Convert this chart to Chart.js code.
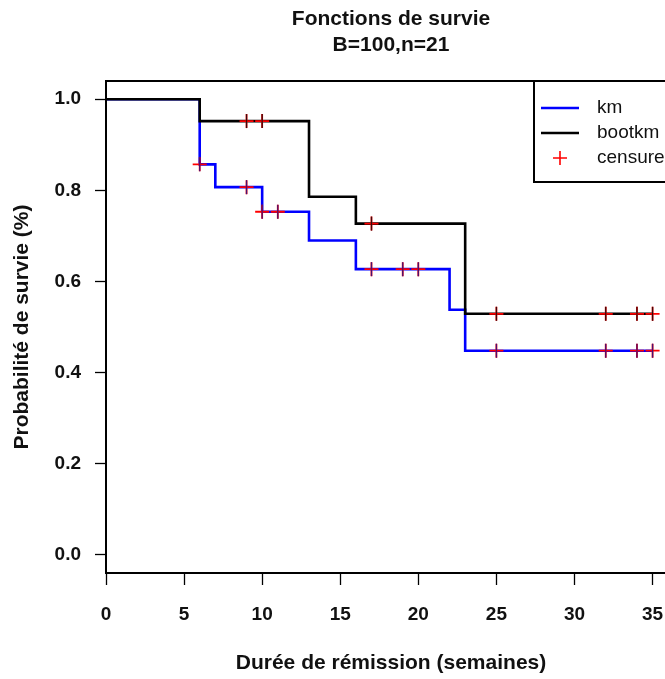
<!DOCTYPE html>
<html lang="fr">
<head>
<meta charset="utf-8">
<title>Fonctions de survie</title>
<script src="https://cdn.jsdelivr.net/npm/chart.js@4.4.1/dist/chart.umd.min.js"></script>
<style>
    html, body { margin: 0; padding: 0; background: #fff; overflow: hidden; }
    #wrap { width: 782px; height: 679px; }
</style>
</head>
<body>
<div id="wrap"><canvas id="survieChart" width="782" height="679"></canvas></div>
<script>
// --- Données : estimateur de Kaplan-Meier et moyenne bootstrap ---
const kmTemps = [0, 6, 7, 10, 13, 16, 22, 23, 35];
const kmSurvie = [1, 0.857, 0.807, 0.753, 0.690, 0.627, 0.538, 0.448, 0.448];

const bootTemps = [0, 6, 13, 16, 23, 35];
const bootSurvie = [1, 0.952, 0.786, 0.727, 0.529, 0.529];

// observations censurées, sur chaque courbe
const kmCensTemps = [6, 9, 10, 11, 17, 19, 20, 25, 32, 34, 35];
const kmCensSurvie = [0.857, 0.807, 0.753, 0.753, 0.627, 0.627, 0.627, 0.448, 0.448, 0.448, 0.448];
const bootCensTemps = [9, 10, 17, 25, 32, 34, 35];
const bootCensSurvie = [0.952, 0.952, 0.727, 0.529, 0.529, 0.529, 0.529];

const xTicks = [0, 5, 10, 15, 20, 25, 30, 35];
const yTicks = [0, 0.2, 0.4, 0.6, 0.8, 1.0];

const titre = ['Fonctions de survie', 'B=100,n=21'];
const legendeLabels = ['km', 'bootkm', 'censure'];

const FONT = '"Liberation Sans", Arial, sans-serif';
const BLEU = '#0000ff';
const NOIR = '#000000';
const ROUGE = '#ff0000';

const toPoints = (xs, ys) => xs.map((x, i) => ({ x: x, y: ys[i] }));

// titre centré sur la zone de tracé, cadre, légende en haut à droite
const cadrePlugin = {
    id: 'cadre',
    afterDraw(chart) {
        const { ctx, chartArea: a } = chart;
        ctx.save();

        ctx.fillStyle = '#111';
        ctx.font = 'bold 21px ' + FONT;
        ctx.textAlign = 'center';
        ctx.textBaseline = 'middle';
        const cx = (a.left + a.right) / 2;
        ctx.fillText(titre[0], cx, 19);
        ctx.fillText(titre[1], cx, 45);

        ctx.strokeStyle = NOIR;
        ctx.lineWidth = 2;
        ctx.strokeRect(a.left, a.top, a.right - a.left, a.bottom - a.top);

        // légende
        const w = 142, h = 101;
        const lx = a.right - w, ly = a.top;
        ctx.fillStyle = '#fff';
        ctx.fillRect(lx, ly, w, h);
        ctx.strokeRect(lx, ly, w, h);

        const rows = [ly + 27, ly + 52, ly + 77];
        ctx.lineWidth = 2.5;
        ctx.strokeStyle = BLEU;
        ctx.beginPath(); ctx.moveTo(lx + 7, rows[0]); ctx.lineTo(lx + 45, rows[0]); ctx.stroke();
        ctx.strokeStyle = NOIR;
        ctx.beginPath(); ctx.moveTo(lx + 7, rows[1]); ctx.lineTo(lx + 45, rows[1]); ctx.stroke();
        ctx.lineWidth = 1.6;
        ctx.strokeStyle = ROUGE;
        ctx.beginPath();
        ctx.moveTo(lx + 19, rows[2]); ctx.lineTo(lx + 33, rows[2]);
        ctx.moveTo(lx + 26, rows[2] - 7); ctx.lineTo(lx + 26, rows[2] + 7);
        ctx.stroke();

        ctx.fillStyle = '#111';
        ctx.font = '19px ' + FONT;
        ctx.textAlign = 'left';
        legendeLabels.forEach((t, i) => ctx.fillText(t, lx + 63, rows[i]));
        ctx.restore();
    }
};

const censure = (xs, ys, style, couleur, largeur, ordre) => ({
    type: 'line',
    data: toPoints(xs, ys),
    showLine: false,
    pointStyle: style,
    rotation: style === 'line' ? 90 : 0,
    pointRadius: 7,
    pointHoverRadius: 7,
    pointBorderColor: couleur,
    pointBackgroundColor: couleur,
    pointBorderWidth: largeur,
    order: ordre
});

const ctx = document.getElementById('survieChart').getContext('2d');
new Chart(ctx, {
    type: 'line',
    data: {
        datasets: [
            { data: toPoints(kmTemps, kmSurvie), borderColor: BLEU, borderWidth: 2.6, stepped: 'before', pointRadius: 0, order: 5 },
            { data: toPoints(bootTemps, bootSurvie), borderColor: NOIR, borderWidth: 2.6, stepped: 'before', pointRadius: 0, order: 4 },
            censure(kmCensTemps, kmCensSurvie, 'cross', ROUGE, 1.8, 3),
            censure(bootCensTemps, bootCensSurvie, 'cross', ROUGE, 1.8, 3),
            censure(kmCensTemps, kmCensSurvie, 'line', '#4a1070', 1.3, 1),
            censure(bootCensTemps, bootCensSurvie, 'line', '#3a0a0a', 1.3, 1)
        ]
    },
    options: {
        responsive: false,
        animation: false,
        devicePixelRatio: 1,
        layout: { padding: { left: 0, right: 106, top: 81, bottom: 0 } },
        plugins: {
            legend: { display: false },
            tooltip: { enabled: false },
            title: { display: false }
        },
        scales: {
            x: {
                type: 'linear',
                min: 0,
                max: 36.5,
                afterBuildTicks: (s) => { s.ticks = xTicks.map(v => ({ value: v })); },
                afterFit: (s) => { s.height = 106; },
                grid: { drawOnChartArea: false, drawTicks: true, tickLength: 12, tickColor: NOIR, tickWidth: 1.3 },
                border: { display: false },
                ticks: {
                    color: '#111', padding: 18, maxRotation: 0, autoSkip: false,
                    font: { family: FONT, size: 19, weight: 'bold' },
                    callback: (v) => String(v)
                },
                title: {
                    display: true,
                    text: 'Durée de rémission (semaines)',
                    color: '#111',
                    font: { family: FONT, size: 21, weight: 'bold', lineHeight: 1.2 },
                    padding: { top: 0, bottom: 3 }
                }
            },
            y: {
                type: 'linear',
                min: -0.04,
                max: 1.04,
                afterBuildTicks: (s) => { s.ticks = yTicks.map(v => ({ value: v })); },
                afterFit: (s) => { s.width = 106; },
                grid: { drawOnChartArea: false, drawTicks: true, tickLength: 11, tickColor: NOIR, tickWidth: 1.3 },
                border: { display: false },
                ticks: {
                    color: '#111', padding: 14, autoSkip: false,
                    font: { family: FONT, size: 19, weight: 'bold' },
                    callback: (v) => v.toFixed(1)
                },
                title: {
                    display: true,
                    text: 'Probabilité de survie (%)',
                    color: '#111',
                    font: { family: FONT, size: 21, weight: 'bold', lineHeight: 1.2 },
                    padding: { top: 10, bottom: 0 }
                }
            }
        }
    },
    plugins: [cadrePlugin]
});
</script>
</body>
</html>
